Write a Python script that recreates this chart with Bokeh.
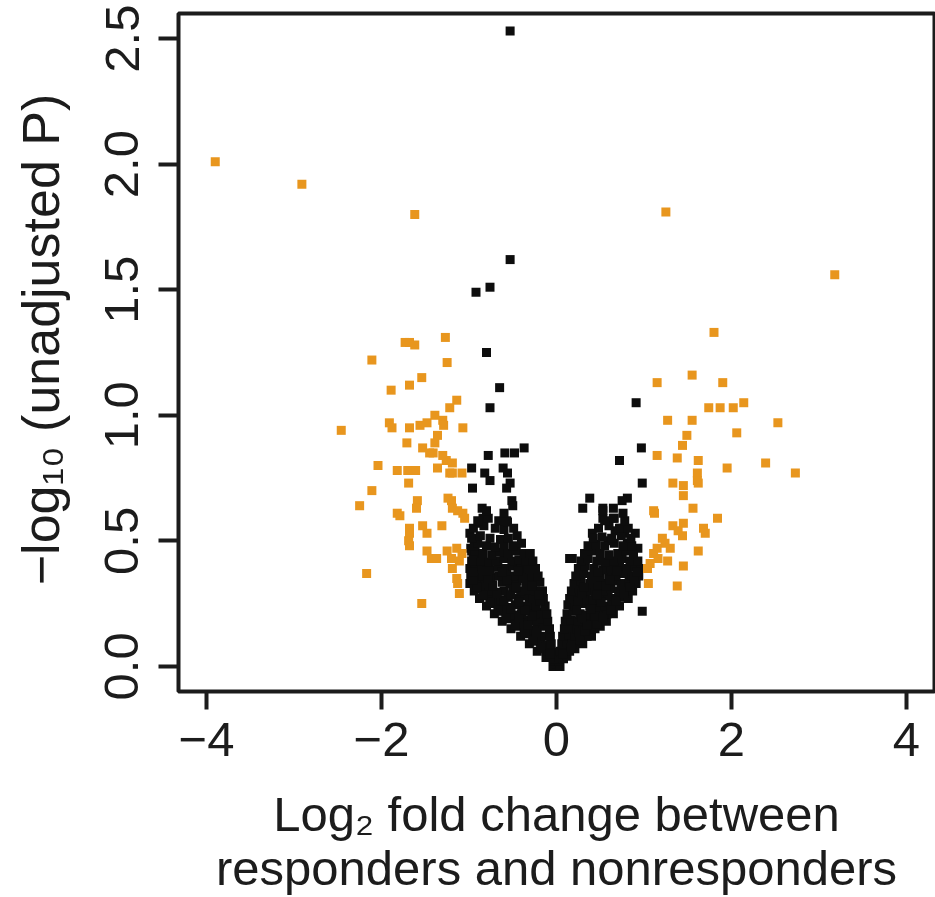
from bokeh.plotting import figure
from bokeh.models import Range1d, FixedTicker
from bokeh.embed import file_html
from bokeh.resources import INLINE

# ---------------- data ----------------
x_ticks = [-4, -2, 0, 2, 4]
x_tick_labels = ["\u22124", "\u22122", "0", "2", "4"]
y_ticks = [0.0, 0.5, 1.0, 1.5, 2.0, 2.5]
y_tick_labels = ["0.0", "0.5", "1.0", "1.5", "2.0", "2.5"]

x_title = "Log\u2082 fold change between\nresponders and nonresponders"
y_title = "\u2002\u2212log\u2081\u2080 (unadjusted P)"

# orange: |log2 FC| > 1
orange_x = [
    -3.90, -2.91, -1.62,
    -1.73, -1.68, -1.62, -1.27, -2.11, -1.25,
    -1.54, -1.68, -1.89, -1.14, -1.22,
    -1.91, -1.88, -1.68, -1.56, -1.48, -1.39, -1.30, -1.29, -1.07, -2.46,
    -1.71, -1.36, -1.39, -1.53, -1.45, -1.41, -1.30, -1.26, -1.19,
    -2.04, -1.82, -1.70, -1.61, -1.36, -1.22, -1.19, -1.08,
    -1.69, -2.11, -2.25, -1.82, -1.79, -1.59, -1.60,
    -1.24, -1.20, -1.19, -1.13, -1.07, -1.05,
    -1.68, -1.68, -1.69, -1.68, -1.53, -1.48, -1.31,
    -1.48, -1.43, -1.37, -1.25, -1.20, -1.14, -1.08, -1.11,
    -1.19, -1.14, -1.13, -1.11, -2.17, -1.54,
    1.25, 3.18, 1.80, 1.15, 1.55, 1.90,
    1.74, 1.87, 2.02, 2.14, 1.27, 1.55, 2.53,
    1.49, 2.06, 1.44, 1.15, 1.38, 1.62, 2.39, 2.73, 1.95,
    1.61, 1.61, 1.62, 1.33, 1.45, 1.45,
    1.11, 1.12, 1.56, 1.84, 1.45, 1.33, 1.39, 1.44, 1.68, 1.70,
    1.21, 1.24, 1.30, 1.15, 1.11, 1.16, 1.27, 1.07, 1.04,
    1.62, 1.45, 1.05, 1.38,
]
orange_y = [
    2.01, 1.92, 1.80,
    1.29, 1.29, 1.28, 1.31, 1.22, 1.21,
    1.15, 1.12, 1.10, 1.06, 1.03,
    0.97, 0.95, 0.95, 0.96, 0.97, 1.00, 0.98, 0.96, 0.95, 0.94,
    0.89, 0.92, 0.89, 0.87, 0.85, 0.85, 0.84, 0.82, 0.81,
    0.80, 0.78, 0.78, 0.78, 0.79, 0.77, 0.77, 0.77,
    0.73, 0.70, 0.64, 0.61, 0.60, 0.66, 0.63,
    0.67, 0.66, 0.63, 0.62, 0.61, 0.59,
    0.55, 0.53, 0.50, 0.48, 0.56, 0.53, 0.56,
    0.46, 0.43, 0.43, 0.46, 0.43, 0.47, 0.45, 0.42,
    0.39, 0.35, 0.33, 0.29, 0.37, 0.25,
    1.81, 1.56, 1.33, 1.13, 1.16, 1.13,
    1.03, 1.03, 1.03, 1.05, 0.98, 0.98, 0.97,
    0.92, 0.93, 0.88, 0.84, 0.83, 0.82, 0.81, 0.77, 0.79,
    0.77, 0.74, 0.73, 0.73, 0.72, 0.68,
    0.62, 0.61, 0.63, 0.59, 0.57, 0.56, 0.54, 0.52, 0.55, 0.53,
    0.51, 0.49, 0.47, 0.47, 0.45, 0.43, 0.42, 0.41, 0.39,
    0.46, 0.40, 0.33, 0.32,
]

# black: |log2 FC| <= 1
black_x = [
    -0.53, -0.53, -0.76, -0.92, -0.80, -0.65, -0.76,
    0.91, 0.97, 0.72, 0.98,
    -0.37, -0.48, -0.59, -0.78,
    -0.97, -0.82, -0.76, -0.61, -0.56, -0.53, -0.57, -0.96,
    -0.51, -0.50, -0.85, -0.84, -0.88, -0.57,
    -0.99, -0.91, -0.98, -0.97, -0.91,
    0.38, 0.30, 0.53, 0.65, 0.81, 0.75, 0.53, 0.65,
    0.41, 0.59, 0.67, 0.73, 0.78, 0.90, 0.93, 0.81,
    0.15, 0.18, 0.98,
    -0.04, 0.00, 0.04, -0.02, 0.03,
    -0.12, -0.08, -0.03, 0.03, 0.08, 0.12,
    -0.22, -0.16, -0.10, -0.05, 0.04, 0.10, 0.15, 0.21,
    -0.31, -0.25, -0.18, -0.12, -0.06, 0.06, 0.12, 0.18, 0.24, 0.30,
    -0.41, -0.34, -0.27, -0.20, -0.13, -0.07, 0.07, 0.14, 0.21, 0.28, 0.35, 0.40,
    -0.52, -0.44, -0.37, -0.29, -0.22, -0.15, -0.08, 0.09, 0.16, 0.23, 0.30, 0.37, 0.44, 0.50,
    -0.62, -0.55, -0.47, -0.39, -0.31, -0.24, -0.16, -0.10, 0.10, 0.17, 0.25, 0.33, 0.40, 0.48, 0.57,
    -0.71, -0.63, -0.56, -0.48, -0.40, -0.32, -0.25, -0.18, -0.11, 0.12, 0.19, 0.27, 0.35, 0.43, 0.51, 0.58, 0.65,
    -0.80, -0.72, -0.64, -0.56, -0.47, -0.39, -0.31, -0.23, -0.13, 0.13, 0.21, 0.30, 0.38, 0.46, 0.55, 0.63, 0.72,
    -0.88, -0.80, -0.72, -0.63, -0.55, -0.44, -0.36, -0.27, -0.15, 0.15, 0.24, 0.33, 0.42, 0.50, 0.59, 0.68, 0.76, 0.82,
    -0.94, -0.86, -0.77, -0.68, -0.60, -0.50, -0.41, -0.32, -0.24, -0.16, 0.17, 0.26, 0.35, 0.44, 0.53, 0.62, 0.71, 0.80, 0.87,
    -0.99, -0.90, -0.82, -0.73, -0.62, -0.53, -0.45, -0.35, -0.27, -0.19, 0.20, 0.28, 0.38, 0.47, 0.56, 0.65, 0.74, 0.83, 0.91,
    -0.98, -0.92, -0.84, -0.75, -0.66, -0.57, -0.48, -0.40, -0.30, -0.21, 0.22, 0.31, 0.41, 0.50, 0.60, 0.68, 0.77, 0.86, 0.94,
    -0.99, -0.93, -0.85, -0.76, -0.67, -0.58, -0.50, -0.41, -0.33, -0.24, 0.25, 0.33, 0.43, 0.53, 0.62, 0.72, 0.81, 0.90, 0.97,
    -0.97, -0.95, -0.86, -0.77, -0.69, -0.60, -0.51, -0.43, -0.35, -0.27, 0.28, 0.36, 0.46, 0.56, 0.66, 0.75, 0.84, 0.93,
    -0.95, -0.93, -0.84, -0.74, -0.65, -0.55, -0.46, -0.37, -0.30, 0.32, 0.40, 0.50, 0.60, 0.70, 0.79, 0.88,
    -0.94, -0.90, -0.80, -0.70, -0.60, -0.50, -0.40, 0.36, 0.45, 0.55, 0.66, 0.76, 0.86,
    -0.97, -0.87, -0.76, -0.64, -0.55, -0.45, 0.42, 0.52, 0.63, 0.74, 0.85,
    -0.95, -0.83, -0.70, -0.60, -0.49, 0.48, 0.60, 0.72, 0.82,
    -0.90, -0.78, -0.66, -0.56, 0.55, 0.66, 0.78,
    -0.80, -0.60, 0.53, 0.76,
    -0.07, 0.07, -0.18, -0.27, 0.17, 0.27,
    -0.36, -0.23, 0.26, 0.33, -0.47, -0.33, 0.35, 0.46,
    -0.58, -0.43, -0.28, 0.29, 0.44, 0.53,
    -0.67, -0.52, -0.36, 0.23, 0.39, 0.62,
    -0.76, -0.60, -0.43, -0.19, 0.25, 0.51, 0.68,
    -0.84, -0.68, -0.52, -0.20, 0.29, 0.46, 0.77,
    -0.91, -0.73, -0.46, -0.28, 0.31, 0.57, 0.84,
    -0.95, -0.78, -0.57, -0.38, 0.40, 0.61, 0.89,
    -0.96, -0.80, -0.62, -0.44, 0.47, 0.69, 0.92,
]
black_y = [
    2.53, 1.62, 1.51, 1.49, 1.25, 1.11, 1.03,
    1.05, 0.87, 0.82, 0.73,
    0.87, 0.85, 0.85, 0.84,
    0.79, 0.77, 0.74, 0.79, 0.77, 0.73, 0.71, 0.71,
    0.66, 0.64, 0.63, 0.59, 0.57, 0.58,
    0.53, 0.51, 0.47, 0.46, 0.43,
    0.67, 0.63, 0.63, 0.63, 0.67, 0.66, 0.59, 0.59,
    0.53, 0.50, 0.54, 0.55, 0.53, 0.53, 0.47, 0.49,
    0.43, 0.43, 0.22,
    0.00, 0.01, 0.00, 0.02, 0.02,
    0.035, 0.04, 0.03, 0.035, 0.03, 0.04,
    0.06, 0.07, 0.06, 0.055, 0.06, 0.065, 0.06, 0.07,
    0.09, 0.10, 0.09, 0.085, 0.09, 0.09, 0.095, 0.09, 0.10, 0.09,
    0.12, 0.13, 0.12, 0.115, 0.12, 0.12, 0.12, 0.125, 0.12, 0.13, 0.12, 0.12,
    0.15, 0.16, 0.15, 0.145, 0.15, 0.16, 0.15, 0.15, 0.155, 0.15, 0.16, 0.15, 0.15, 0.16,
    0.18, 0.19, 0.18, 0.175, 0.185, 0.18, 0.19, 0.18, 0.18, 0.185, 0.18, 0.19, 0.18, 0.175, 0.18,
    0.21, 0.22, 0.21, 0.205, 0.21, 0.22, 0.21, 0.215, 0.21, 0.21, 0.22, 0.21, 0.205, 0.21, 0.22, 0.21, 0.21,
    0.24, 0.25, 0.24, 0.235, 0.245, 0.24, 0.25, 0.24, 0.24, 0.245, 0.24, 0.25, 0.24, 0.235, 0.24, 0.25, 0.24,
    0.27, 0.28, 0.27, 0.265, 0.275, 0.27, 0.28, 0.27, 0.27, 0.27, 0.28, 0.27, 0.265, 0.27, 0.28, 0.27, 0.275, 0.27,
    0.30, 0.31, 0.30, 0.295, 0.30, 0.31, 0.30, 0.305, 0.30, 0.30, 0.30, 0.31, 0.30, 0.295, 0.30, 0.31, 0.30, 0.305, 0.30,
    0.33, 0.34, 0.33, 0.325, 0.335, 0.33, 0.34, 0.33, 0.33, 0.335, 0.33, 0.34, 0.33, 0.325, 0.33, 0.34, 0.33, 0.335, 0.33,
    0.36, 0.37, 0.36, 0.355, 0.36, 0.37, 0.36, 0.365, 0.36, 0.36, 0.36, 0.37, 0.36, 0.355, 0.365, 0.36, 0.37, 0.36, 0.36,
    0.39, 0.40, 0.39, 0.385, 0.395, 0.39, 0.40, 0.39, 0.39, 0.39, 0.39, 0.40, 0.39, 0.385, 0.39, 0.40, 0.39, 0.395, 0.39,
    0.42, 0.43, 0.42, 0.415, 0.42, 0.43, 0.42, 0.425, 0.42, 0.42, 0.42, 0.43, 0.42, 0.415, 0.42, 0.43, 0.42, 0.42,
    0.45, 0.46, 0.45, 0.445, 0.455, 0.45, 0.46, 0.45, 0.45, 0.45, 0.46, 0.45, 0.445, 0.45, 0.46, 0.45,
    0.48, 0.49, 0.48, 0.475, 0.485, 0.48, 0.49, 0.48, 0.485, 0.48, 0.49, 0.48, 0.48,
    0.51, 0.52, 0.51, 0.505, 0.51, 0.52, 0.51, 0.515, 0.51, 0.52, 0.51,
    0.55, 0.56, 0.55, 0.545, 0.55, 0.55, 0.56, 0.55, 0.55,
    0.58, 0.59, 0.58, 0.575, 0.58, 0.59, 0.58,
    0.62, 0.61, 0.62, 0.61,
    0.05, 0.05, 0.075, 0.105, 0.075, 0.105,
    0.135, 0.135, 0.135, 0.14, 0.165, 0.165, 0.165, 0.17,
    0.195, 0.195, 0.20, 0.195, 0.20, 0.195,
    0.225, 0.23, 0.225, 0.225, 0.23, 0.225,
    0.255, 0.26, 0.255, 0.26, 0.26, 0.255, 0.26,
    0.285, 0.29, 0.285, 0.285, 0.29, 0.285, 0.29,
    0.315, 0.32, 0.315, 0.32, 0.315, 0.32, 0.315,
    0.345, 0.35, 0.345, 0.35, 0.35, 0.345, 0.35,
    0.375, 0.38, 0.375, 0.38, 0.375, 0.38, 0.375,
]

# ---------------- figure ----------------
FONT = "Liberation Sans"
INK = "#1c1c1c"

p = figure(width=935, height=897,
           x_range=Range1d(-4.32, 4.32), y_range=Range1d(-0.1, 2.6),
           output_backend="svg", toolbar_location=None,
           min_border_left=178, min_border_right=1,
           min_border_top=13, min_border_bottom=206)
p.background_fill_color = "white"
p.border_fill_color = "white"
p.outline_line_color = INK
p.outline_line_width = 4
p.grid.visible = False

p.scatter(black_x, black_y, marker="square", size=9,
          fill_color="#0d0d0d", line_color=None)
p.scatter(orange_x, orange_y, marker="square", size=9,
          fill_color="#E8961E", line_color=None)

xa = p.xaxis[0]
ya = p.yaxis[0]
xa.ticker = FixedTicker(ticks=x_ticks)
ya.ticker = FixedTicker(ticks=y_ticks)
xa.major_label_overrides = {t: s for t, s in zip(x_ticks, x_tick_labels)}
ya.major_label_overrides = {t: s for t, s in zip(y_ticks, y_tick_labels)}
ya.major_label_orientation = "vertical"

for ax in (xa, ya):
    ax.axis_line_color = None
    ax.major_tick_line_color = INK
    ax.major_tick_line_width = 4
    ax.major_tick_in = 0
    ax.minor_tick_line_color = None
    ax.major_label_text_font = FONT
    ax.major_label_text_font_size = "49px"
    ax.major_label_text_color = INK
    ax.axis_label_text_font = FONT
    ax.axis_label_text_font_style = "normal"
    ax.axis_label_text_color = INK

xa.major_tick_out = 18
ya.major_tick_out = 20
xa.major_label_standoff = 13
ya.major_label_standoff = 20
xa.axis_label = x_title
ya.axis_label = y_title
xa.axis_label_text_font_size = "49px"
ya.axis_label_text_font_size = "52px"
xa.axis_label_standoff = 28
ya.axis_label_standoff = 33
xa.axis_label_text_line_height = 1.0

open("out.html", "w").write(file_html(p, INLINE, title="volcano"))
